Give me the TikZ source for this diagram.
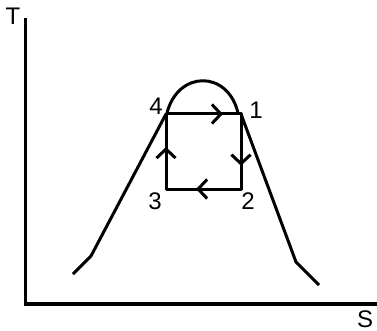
\documentclass[tikz,border=0pt]{standalone}
\usepackage{fontspec}
\setmainfont{Liberation Sans}
\usetikzlibrary{arrows.meta,decorations.markings}
\begin{document}
\begin{tikzpicture}[x=1pt,y=-1pt,
  curve/.style={line width=3pt,line join=round},
  axis/.style={line width=3.6pt},
  lbl/.style={font=\fontsize{24}{24}\selectfont,inner sep=0pt},
  chev/.style={postaction={decorate,decoration={markings,
     mark=at position #1 with {\arrow[line width=3pt]{Straight Barb[length=9pt,width=19pt]}}}}}]
\useasboundingbox (0,0) rectangle (377,331);
% axes
\coordinate (origin) at (25.5,304);
\coordinate (ytop) at (25.5,18);
\coordinate (xend) at (377,304);
\draw[axis] (ytop) -- (origin) -- (xend);
\node[lbl] (T) at (13,16) {T};
\node[lbl] (S) at (365,319.5) {S};
% cycle corners
\coordinate (p4) at (166,114);
\coordinate (p1) at (241,114);
\coordinate (p2) at (241,189);
\coordinate (p3) at (166,189);
% saturation curve
\coordinate (la) at (73,274);
\coordinate (lb) at (91,256);
\coordinate (ra) at (296,262);
\coordinate (rb) at (319,285);
\coordinate (dl) at (167,113);
\coordinate (dr) at (238,113);
\draw[curve] (la) -- (lb) -- (p4);
\draw[curve] (dl) .. controls (178,70) and (228,70) .. (dr);
\draw[curve] (p1) -- (ra) -- (rb);
% cycle
\draw[curve,chev=0.76] (p4) -- (p1);
\draw[curve,chev=0.69] (p1) -- (p2);
\draw[curve,chev=0.6] (p2) -- (p3);
\draw[curve,chev=0.56] (p3) -- (p4);
\draw[curve] (p4) -- (p1) -- (p2) -- (p3) -- cycle;
% labels
\node[lbl] (l4) at (156,106) {4};
\node[lbl] (l1) at (256,110) {1};
\node[lbl] (l3) at (155,201) {3};
\node[lbl] (l2) at (248,201) {2};
\end{tikzpicture}
\end{document}
